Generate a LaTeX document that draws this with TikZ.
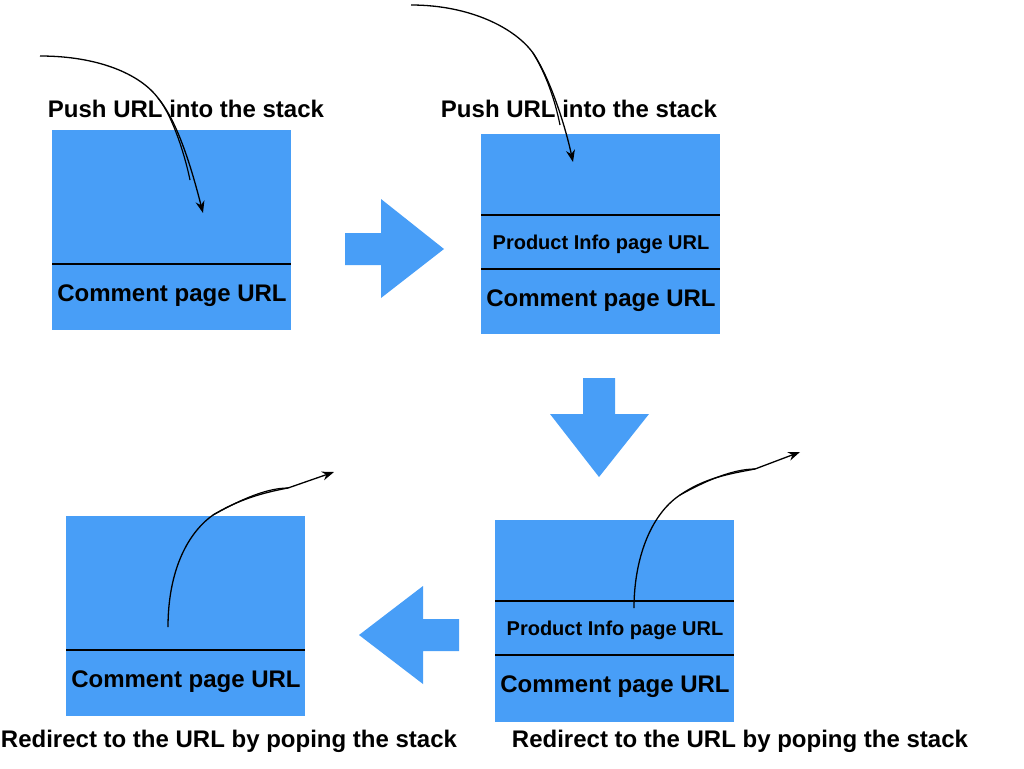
\documentclass[tikz,border=0pt]{standalone}
\usepackage{fontspec}
\setmainfont{Liberation Sans}
\usetikzlibrary{arrows.meta}
\definecolor{stackblue}{RGB}{72,158,247}
\tikzset{
  sep/.style={line width=1.4pt, black},
  bigtxt/.style={font=\fontsize{24}{28}\selectfont\bfseries, inner sep=0pt},
  midtxt/.style={font=\fontsize{20}{24}\selectfont\bfseries, inner sep=0pt},
  flow/.style={line width=1.3pt, -{Stealth[length=12pt,width=9pt]}},
  plain/.style={line width=1.2pt}
}
\begin{document}
\begin{tikzpicture}[x=1pt,y=-1pt]
\useasboundingbox (0,0) rectangle (1024,768);
% boxes
\fill[stackblue] (52,130) rectangle (291,330);
\draw[sep] (52,264) -- (291,264);
\node[bigtxt] (b1c) at (172,296) {Comment page URL};

\fill[stackblue] (481,134) rectangle (720,334);
\draw[sep] (481,215) -- (720,215);
\draw[sep] (481,269) -- (720,269);
\node[midtxt] (b2p) at (601,244) {Product Info page URL};
\node[bigtxt] (b2c) at (601,301) {Comment page URL};

\fill[stackblue] (495,520) rectangle (734,722);
\draw[sep] (495,601) -- (734,601);
\draw[sep] (495,655) -- (734,655);
\node[midtxt] (b3p) at (615,630) {Product Info page URL};
\node[bigtxt] (b3c) at (615,687) {Comment page URL};

\fill[stackblue] (66,516) rectangle (305,716);
\draw[sep] (66,650) -- (305,650);
\node[bigtxt] (b4c) at (186,682) {Comment page URL};

% labels
\node[bigtxt] (l1) at (186,109) {Push URL into the stack};
\node[bigtxt] (l2) at (579,109) {Push URL into the stack};
\node[bigtxt] (l3) at (229,741) {Redirect to the URL by poping the stack};
\node[bigtxt] (l4) at (740,741) {Redirect to the URL by poping the stack};

% big arrows
\fill[stackblue] (345,233) -- (381,233) -- (381,199) -- (444,249) -- (381,298) -- (381,265) -- (345,265) -- cycle;
\fill[stackblue] (583,378) -- (615,378) -- (615,414) -- (649,414) -- (599,477) -- (550,414) -- (583,414) -- cycle;
\fill[stackblue] (459,619) -- (423,619) -- (423,586) -- (359,635) -- (423,684) -- (423,651) -- (459,651) -- cycle;

% curves
\coordinate (s1) at (40,56);
\coordinate (m1) at (158,98);
\coordinate (e1) at (203,213);
\draw[flow] (s1) .. controls (98,56) and (140,74) .. (m1) .. controls (178,122) and (192,170) .. (e1);
\draw[plain] (m1) .. controls (174,118) and (186,160) .. (190,180);

\coordinate (s2) at (411,5);
\coordinate (m2) at (533,53);
\coordinate (e2) at (573,162);
\draw[flow] (s2) .. controls (470,5) and (515,28) .. (m2) .. controls (550,78) and (565,125) .. (e2);
\draw[plain] (m2) .. controls (546,74) and (555,100) .. (560,125);

\coordinate (s3) at (634,608);
\coordinate (m3) at (680,495);
\coordinate (k3) at (755,469);
\coordinate (e3) at (800,452);
\draw[flow] (s3) .. controls (634,560) and (650,515) .. (m3) .. controls (705,478) and (728,474) .. (k3) -- (e3);
\draw[plain] (m3) .. controls (700,484) and (730,469) .. (k3);

\coordinate (s4) at (168,627);
\coordinate (m4) at (213,515);
\coordinate (k4) at (288,488);
\coordinate (e4) at (334,472);
\draw[flow] (s4) .. controls (168,575) and (185,535) .. (m4) .. controls (238,500) and (261,493) .. (k4) -- (e4);
\draw[plain] (m4) .. controls (233,504) and (263,488) .. (k4);
\end{tikzpicture}
\end{document}
